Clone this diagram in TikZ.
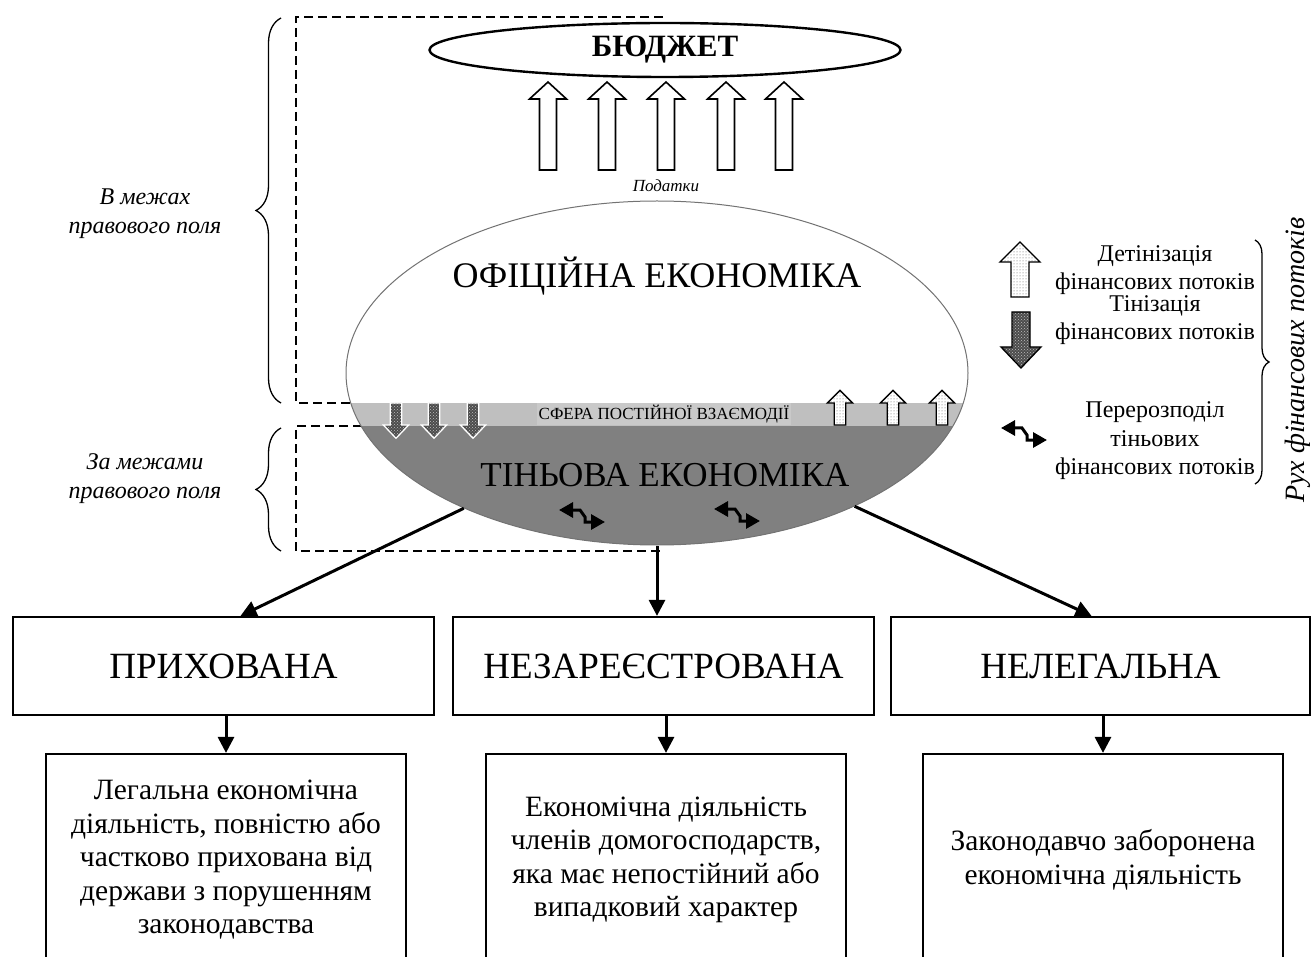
\documentclass[tikz,border=0pt]{standalone}
\usepackage{fontspec}
\setmainfont{Liberation Serif}
\usetikzlibrary{shapes.geometric, arrows.meta, patterns, decorations.pathreplacing, calc}

\tikzset{
  % стрілки-позначки
  podatok/.pic={
    \draw[line width=1.6, fill=white]
      (-8.5,0) -- (-8.5,-71) -- (-18.5,-71) -- (0,-88) -- (18.5,-71) -- (8.5,-71) -- (8.5,0) -- cycle;
  },
  detin/.pic={
    \draw[line width=1.3, preaction={fill=white}, pattern=dots, pattern color=black!65]
      (-9,0) -- (-9,-35) -- (-20,-35) -- (0,-55) -- (20,-35) -- (9,-35) -- (9,0) -- cycle;
  },
  tinizatsiya/.pic={
    \draw[line width=1.3, preaction={fill=black!70}, pattern=crosshatch dots, pattern color=white!75!black]
      (-9,0) -- (-9,35) -- (-20,35) -- (0,56) -- (20,35) -- (9,35) -- (9,0) -- cycle;
  },
  perer/.pic={
    \draw[line width=3, {Triangle[length=14pt,width=15pt]}-{Triangle[length=14pt,width=15pt]}]
      (-23,-6) -- (-2,-6) -- (3,1) -- (3,6) -- (23,6);
  }
}

\begin{document}
\begin{tikzpicture}[
    x=1pt,
    y=-1pt,
    vyd/.style={draw, line width=2.2, minimum width=421, minimum height=98, font=\fontsize{37}{40}\selectfont},
    opys/.style={draw, line width=2.2, minimum width=360, minimum height=212, align=center, font=\fontsize{29.5}{33.5}\selectfont},
    zvyazok/.style={line width=3, -{Triangle[length=16pt,width=16pt]}},
    mezha/.style={line width=1.2, dash pattern=on 9pt off 5pt},
    dugka/.style={decorate, decoration={brace, amplitude=#1}, line width=1.3},
    mitka/.style={font=\fontsize{24}{29}\selectfont\itshape, align=center},
    legenda/.style={font=\fontsize{24}{28.5}\selectfont, align=center}
]
\useasboundingbox (0,0) rectangle (1312,957);
\clip (0,0) rectangle (1312,957);

% Межі правового поля
\draw[mezha] (663,17) -- (296,17) -- (296,403) -- (360,403);
\draw[mezha] (362,426) -- (296,426) -- (296,551) -- (663,551);
\draw[dugka=25] (281,403) -- (281,18);
\draw[dugka=25] (281,551) -- (281,428);
\node[mitka] (pravove) at (145,214) {В межах\\правового поля};
\node[mitka] (poza) at (145,479) {За межами\\правового поля};

% Бюджет і податки
\node[ellipse, draw, line width=2.4, inner sep=0, minimum width=471, minimum height=54,
  font=\fontsize{31}{31}\selectfont\bfseries] (budzhet) at (665,50) {БЮДЖЕТ};
\foreach \x in {548,607,666,726,784}
  \pic at (\x,170) {podatok};
\node[font=\fontsize{17}{17}\selectfont\itshape] (podatky) at (666,186) {Податки};

% Економіка
\node[ellipse, draw=black!55, fill=white, line width=1, minimum width=622, minimum height=344,
  path picture={
    \fill[black!25] ($(path picture bounding box.center)+(-330,30)$) rectangle ($(path picture bounding box.center)+(330,53)$);
    \fill[black!50] ($(path picture bounding box.center)+(-330,53)$) rectangle ($(path picture bounding box.center)+(330,190)$);
  }] (ekonomika) at (657,373) {};
\node[font=\fontsize{36}{36}\selectfont] (ofits) at (657,276) {ОФІЦІЙНА ЕКОНОМІКА};
\node[font=\fontsize{17}{17}\selectfont, fill=black!21, inner sep=2] (sfera) at (664,414) {СФЕРА ПОСТІЙНОЇ ВЗАЄМОДІЇ};
\node[font=\fontsize{35}{35}\selectfont] (tin) at (665,475) {ТІНЬОВА ЕКОНОМІКА};
\foreach \x in {396,434,473}
  \pic[color=white, scale=0.63] at (\x,403) {tinizatsiya};
\foreach \x in {840,893,942}
  \pic[scale=0.63] at (\x,425) {detin};
\pic at (582,516) {perer};
\pic at (737,515) {perer};

% Легенда
\pic at (1020,297) {detin};
\pic at (1021,312) {tinizatsiya};
\pic at (1024,434) {perer};
\node[legenda] (leg-detin) at (1155,270) {Детінізація\\фінансових потоків};
\node[legenda] (leg-tin) at (1155,320) {Тінізація\\фінансових потоків};
\node[legenda] (leg-perer) at (1155,441) {Перерозподіл\\тіньових\\фінансових потоків};
\draw[dugka=14] (1255,240) -- (1255,484);
\node[rotate=90, font=\fontsize{28}{28}\selectfont\itshape] (rukh) at (1298,360) {Рух фінансових потоків};

% Види тіньової економіки
\node[vyd] (prykh) at (223.5,666) {ПРИХОВАНА};
\node[vyd] (nezar) at (663.5,666) {НЕЗАРЕЄСТРОВАНА};
\node[vyd, minimum width=419] (neleg) at (1100.5,666) {НЕЛЕГАЛЬНА};

\node[opys] (prykh-o) at (226,860) {Легальна економічна\\діяльність, повністю або\\частково прихована від\\держави з порушенням\\законодавства};
\node[opys] (nezar-o) at (666,860) {Економічна діяльність\\членів домогосподарств,\\яка має непостійний або\\випадковий характер};
\node[opys] (neleg-o) at (1103,860) {Законодавчо заборонена\\економічна діяльність};

\draw[zvyazok] (ekonomika.215) -- ([xshift=17]prykh.north);
\draw[zvyazok] (ekonomika.south) -- (ekonomika.south |- nezar.north);
\draw[zvyazok] (ekonomika.326) -- ([xshift=-9]neleg.north);

\draw[zvyazok] (prykh.south -| prykh-o.north) -- (prykh-o.north);
\draw[zvyazok] (nezar.south -| nezar-o.north) -- (nezar-o.north);
\draw[zvyazok] (neleg.south -| neleg-o.north) -- (neleg-o.north);

\end{tikzpicture}
\end{document}
